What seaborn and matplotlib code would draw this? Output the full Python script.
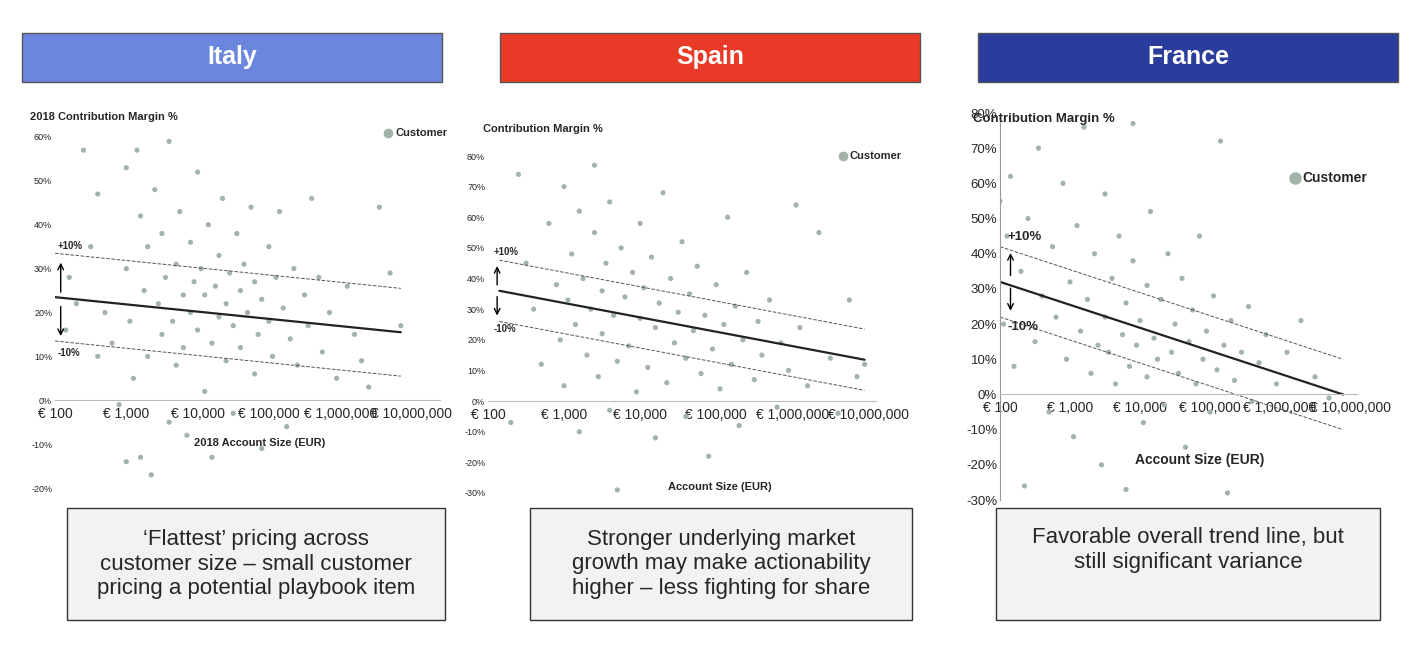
import numpy as np
import pandas as pd
import seaborn as sns
import matplotlib.pyplot as plt
from matplotlib.patches import Rectangle

sns.set_style("white")
plt.rcParams['font.family'] = ['Liberation Sans', 'DejaVu Sans']

# ---- data (log10 account size, margin %) ----
italy_x = [2.2, 2.3, 2.4, 2.5, 2.6, 2.7, 2.8, 2.9, 3.0, 3.0, 3.05, 3.1, 3.15, 3.2, 3.2, 3.25, 3.3, 3.3, 3.35, 3.4,
           3.45, 3.5, 3.5, 3.55, 3.6, 3.6, 3.65, 3.7, 3.7, 3.75, 3.8, 3.8, 3.85, 3.9, 3.9, 3.95, 4.0, 4.0, 4.05, 4.1,
           4.1, 4.15, 4.2, 4.2, 4.25, 4.3, 4.3, 4.35, 4.4, 4.4, 4.45, 4.5, 4.5, 4.55, 4.6, 4.6, 4.65, 4.7, 4.75, 4.8,
           4.8, 4.85, 4.9, 4.9, 5.0, 5.0, 5.05, 5.1, 5.15, 5.2, 5.25, 5.3, 5.35, 5.4, 5.5, 5.55, 5.6, 5.7, 5.75, 5.85,
           5.95, 6.1, 6.2, 6.3, 6.4, 6.55, 6.7, 6.85, 2.15, 2.6, 3.0]
italy_y = [28, 22, 57, 35, 47, 20, 13, -1, 53, 30, 18, 5, 57, 42, -13, 25, 35, 10, -17, 48,
           22, 15, 38, 28, -5, 59, 18, 31, 8, 43, 24, 12, -8, 36, 20, 27, 52, 16, 30, 2,
           24, 40, 13, -13, 26, 33, 19, 46, 9, 22, 29, -3, 17, 38, 25, 12, 31, 20, 44, 6,
           27, 15, -11, 23, 35, 18, 10, 28, 43, 21, -6, 14, 30, 8, 24, 17, 46, 28, 11, 20,
           5, 26, 15, 9, 3, 44, 29, 17, 16, 10, -14]

spain_x = [2.3, 2.4, 2.5, 2.6, 2.7, 2.8, 2.9, 2.95, 3.0, 3.0, 3.05, 3.1, 3.15, 3.2, 3.2, 3.25, 3.3, 3.35, 3.4, 3.4,
           3.45, 3.5, 3.5, 3.55, 3.6, 3.6, 3.65, 3.7, 3.75, 3.8, 3.7, 3.85, 3.9, 3.95, 4.0, 4.0, 4.05, 4.1, 4.15, 4.2,
           4.2, 4.25, 4.3, 4.35, 4.4, 4.45, 4.5, 4.55, 4.6, 4.6, 4.65, 4.7, 4.75, 4.8, 4.85, 4.9, 4.95, 5.0, 5.05, 5.1,
           5.15, 5.2, 5.25, 5.3, 5.35, 5.4, 5.5, 5.55, 5.6, 5.7, 5.8, 5.85, 5.95, 6.05, 6.1, 6.2, 6.35, 6.5, 6.6, 6.75,
           6.85, 6.95]
spain_y = [-7, 74, 45, 30, 12, 58, 38, 20, 70, 5, 33, 48, 25, -10, 62, 40, 15, 30, 77, 55,
           8, 36, 22, 45, -3, 65, 28, 13, 50, 34, -29, 18, 42, 3, 27, 58, 37, 11, 47, -12,
           24, 32, 68, 6, 40, 19, 29, 52, -5, 14, 35, 23, 44, 9, 28, -18, 17, 38, 4, 25,
           60, 12, 31, -8, 20, 42, 7, 26, 15, 33, -2, 19, 10, 64, 24, 5, 55, 14, -4, 33,
           8, 12]

france_x = [2.0, 2.05, 2.1, 2.15, 2.2, 2.3, 2.35, 2.4, 2.5, 2.55, 2.6, 2.7, 2.75, 2.8, 2.9, 2.95, 3.0, 3.05, 3.1, 3.15,
            3.2, 3.25, 3.3, 3.35, 3.4, 3.45, 3.5, 3.5, 3.55, 3.6, 3.65, 3.7, 3.75, 3.8, 3.8, 3.85, 3.9, 3.9, 3.95, 4.0,
            4.05, 4.1, 4.1, 4.15, 4.2, 4.25, 4.3, 4.35, 4.4, 4.45, 4.5, 4.55, 4.6, 4.65, 4.7, 4.75, 4.8, 4.85, 4.9, 4.95,
            5.0, 5.05, 5.1, 5.15, 5.2, 5.25, 5.3, 5.35, 5.45, 5.55, 5.6, 5.7, 5.8, 5.95, 6.1, 6.3, 6.5, 6.7]
france_y = [55, 20, 45, 62, 8, 35, -26, 50, 15, 70, 28, -5, 42, 22, 60, 10, 32, -12, 48, 18,
            76, 27, 6, 40, 14, -20, 57, 22, 12, 33, 3, 45, 17, -27, 26, 8, 77, 38, 14, 21,
            -8, 31, 5, 52, 16, 10, 27, -3, 40, 12, 20, 6, 33, -15, 15, 24, 3, 45, 10, 18,
            -5, 28, 7, 72, 14, -28, 21, 4, 12, 25, -2, 9, 17, 3, 12, 21, 5, -1]

# trend line end points (log10 size, margin %)
italy_trend_x, italy_trend_y = [2.0, 6.85], [23.5, 15.5]
spain_trend_x, spain_trend_y = [2.15, 6.95], [36, 13.5]
france_trend_x, france_trend_y = [2.0, 6.9], [32, 0]

x_ticks = [2, 3, 4, 5, 6, 7]
x_labels = ['€ 100', '€ 1,000', '€ 10,000', '€ 100,000', '€ 1,000,000', '€ 10,000,000']

W, H = 1418, 646
fig = plt.figure(figsize=(W / 100, H / 100), dpi=100)
PT = '#a2b4a8'


def px(l, t, r, b):
    return [l / W, 1 - b / H, (r - l) / W, (b - t) / H]


def panel(box, xs, ys, tx, ty, ylim, yticks, fs, left_spine, xlim_hi):
    ax = fig.add_axes(px(*box))
    df = pd.DataFrame({'x': xs, 'y': ys})
    sns.scatterplot(data=df, x='x', y='y', ax=ax, color=PT, s=14, edgecolor='none', legend=False)
    ax.plot(tx, ty, color='#222222', lw=1.6)
    ax.plot(tx, np.array(ty) + 10, color='#555555', lw=0.7, ls='--')
    ax.plot(tx, np.array(ty) - 10, color='#555555', lw=0.7, ls='--')
    ax.set_xlim(2, xlim_hi)
    ax.set_ylim(*ylim)
    ax.set_xticks(x_ticks)
    ax.set_xticklabels(x_labels, fontsize=fs)
    ax.set_yticks(yticks)
    ax.set_yticklabels([f'{v}%' for v in yticks], fontsize=fs)
    ax.set_xlabel('')
    ax.set_ylabel('')
    for s in ['top', 'right']:
        ax.spines[s].set_visible(False)
    ax.spines['left'].set_visible(left_spine)
    ax.spines['left'].set_color('#999999')
    ax.spines['bottom'].set_position(('data', 0))
    ax.spines['bottom'].set_color('#bbbbbb')
    ax.tick_params(axis='y', length=0, pad=2)
    ax.tick_params(axis='x', length=0, pad=5)
    return ax


def arrows(ax, x, y0, y1, y2, fs):
    ax.annotate('', xy=(x, y1 - 1), xytext=(x, y0 + 1),
                arrowprops=dict(arrowstyle='->', color='black', lw=1))
    ax.annotate('', xy=(x, y2 + 1), xytext=(x, y0 - 1),
                arrowprops=dict(arrowstyle='->', color='black', lw=1))
    ax.text(x - 0.05, y1 + 1, '+10%', fontsize=fs, fontweight='bold', va='bottom')
    ax.text(x - 0.05, y2 - 1, '-10%', fontsize=fs, fontweight='bold', va='top')


a1 = panel((55, 137, 440, 488), italy_x, italy_y, italy_trend_x, italy_trend_y,
           (-20, 60), list(range(-20, 61, 10)), 6.5, False, 7.4)
arrows(a1, 2.08, 23, 33, 13, 7)
a2 = panel((488, 156, 876, 493), spain_x, spain_y, spain_trend_x, spain_trend_y,
           (-30, 80), list(range(-30, 81, 10)), 6.5, False, 7.1)
arrows(a2, 2.12, 36, 46, 26, 7)
a3 = panel((1000, 113, 1357, 500), france_x, france_y, france_trend_x, france_trend_y,
           (-30, 80), list(range(-30, 81, 10)), 9.5, True, 7.1)
arrows(a3, 2.15, 32, 42, 22, 9.5)

# axis titles and legends
fig.text(30 / W, 1 - 117 / H, '2018 Contribution Margin %', fontsize=8, fontweight='bold', va='center')
fig.text(260 / W, 1 - 443 / H, '2018 Account Size (EUR)', fontsize=8, fontweight='bold', ha='center', va='center')
fig.text(483 / W, 1 - 129 / H, 'Contribution Margin %', fontsize=8, fontweight='bold', va='center')
fig.text(720 / W, 1 - 487 / H, 'Account Size (EUR)', fontsize=8, fontweight='bold', ha='center', va='center')
fig.text(973 / W, 1 - 125 / H, 'Contribution Margin %', fontsize=9.5, fontweight='bold', va='bottom')
fig.text(1200 / W, 1 - 460 / H, 'Account Size (EUR)', fontsize=10, fontweight='bold', ha='center', va='center')
for (lx, ly, fs, ms) in [(388, 133, 8, 6), (843, 156, 8, 6), (1295, 178, 10, 8)]:
    fig.lines.append(plt.Line2D([lx / W], [1 - ly / H], marker='o', color=PT, ms=ms, ls='', transform=fig.transFigure))
    fig.text((lx + 7) / W, 1 - ly / H, 'Customer', fontsize=fs, fontweight='bold', va='center')

# title banners
for (l, name, col) in [(22, 'Italy', '#6b87dd'), (500, 'Spain', '#e83a26'), (978, 'France', '#2a3c9c')]:
    fig.patches.append(Rectangle((l / W, 1 - 82 / H), 420 / W, 49 / H, transform=fig.transFigure,
                                 facecolor=col, edgecolor='#555555', lw=1))
    fig.text((l + 210) / W, 1 - 57 / H, name, color='white', fontsize=18, fontweight='bold',
             ha='center', va='center')

# comment boxes
notes = [(67, 445, '‘Flattest’ pricing across\ncustomer size – small customer\npricing a potential playbook item'),
         (530, 912, 'Stronger underlying market\ngrowth may make actionability\nhigher – less fighting for share'),
         (996, 1380, 'Favorable overall trend line, but\nstill significant variance')]
for (l, r, txt) in notes:
    fig.patches.append(Rectangle((l / W, 1 - 620 / H), (r - l) / W, 112 / H, transform=fig.transFigure,
                                 facecolor='#f2f2f2', edgecolor='#333333', lw=1))
    yy = 564 if txt.count('\n') == 2 else 550
    fig.text((l + r) / 2 / W, 1 - yy / H, txt, fontsize=16, ha='center', va='center', linespacing=1.2)

fig.savefig('out.png', dpi=100)
